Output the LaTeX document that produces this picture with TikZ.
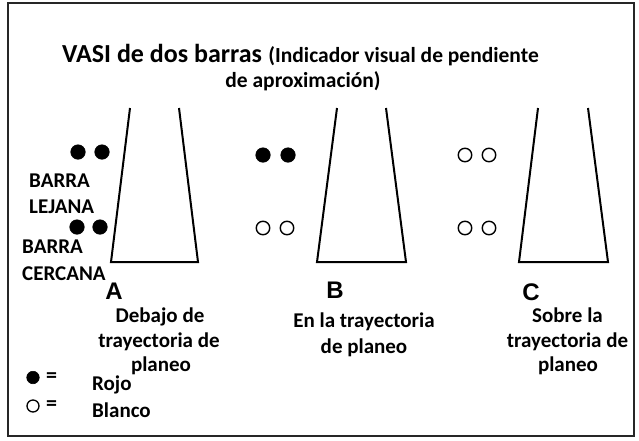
\documentclass[tikz,border=0pt]{standalone}
\usepackage{fontspec}
\setmainfont{Carlito}
\newfontfamily\arialfont{Liberation Sans}
\begin{document}
\begin{tikzpicture}[x=1pt,y=-1pt,
  txt/.style={inner sep=0pt, font=\fontsize{21}{25}\selectfont\bfseries},
  ttl/.style={inner sep=0pt, font=\fontsize{26}{30}\selectfont\bfseries},
  sub/.style={inner sep=0pt, font=\fontsize{21.5}{25}\selectfont\bfseries},
  letter/.style={inner sep=0pt, font=\fontsize{24}{28}\selectfont\arialfont\bfseries, anchor=base},
  eqsign/.style={inner sep=0pt, font=\fontsize{22}{24}\selectfont\bfseries, anchor=west},
  redlamp/.style={circle, fill=black, draw=black, line width=0.6pt, minimum size=14.5pt, inner sep=0pt},
  whitelamp/.style={circle, fill=white, draw=black, line width=1.4pt, minimum size=13.5pt, inner sep=0pt},
  strip/.style={line width=2pt, line join=miter},
  frame/.style={line width=1.8pt, draw=black!85}
]
\useasboundingbox (0,0) rectangle (639,440);
\draw[frame] (8,3) rectangle (634,436);

% title
\node[ttl, anchor=base west] (title) at (62,62) {VASI de dos barras};
\node[sub, anchor=base west] (sub1) at ([xshift=6pt]title.base east) {(Indicador visual de pendiente};
\node[sub, anchor=base] (sub2) at (303,87) {de aproximación)};

% runways
\draw[strip] (130,108) -- (111,262) -- (198,262) -- (179,108);
\draw[strip] (337,108) -- (317,262) -- (406,262) -- (386,108);
\draw[strip] (538,108) -- (519,262) -- (608,262) -- (588,108);

% lamps A
\node[redlamp] (a1) at (78,152) {};
\node[redlamp] (a2) at (102,152) {};
\node[redlamp] (a3) at (77,227) {};
\node[redlamp] (a4) at (100,227) {};
% lamps B
\node[redlamp] (b1) at (263,155) {};
\node[redlamp] (b2) at (288,155) {};
\node[whitelamp] (b3) at (263,228) {};
\node[whitelamp] (b4) at (287,228) {};
% lamps C
\node[whitelamp] (c1) at (465,155) {};
\node[whitelamp] (c2) at (489,155) {};
\node[whitelamp] (c3) at (465,228) {};
\node[whitelamp] (c4) at (489,228) {};

% bar labels
\node[txt, anchor=base west] (far1) at (29,187) {BARRA};
\node[txt, anchor=base west] (far2) at (29,213) {LEJANA};
\node[txt, anchor=base west] (near1) at (22,253) {BARRA};
\node[txt, anchor=base west] (near2) at (22,280) {CERCANA};

% letters
\node[letter] (la) at (114,299) {A};
\node[letter] (lb) at (335,298) {B};
\node[letter] (lc) at (531,300) {C};

% captions
\node[txt, anchor=base] (ca1) at (160,322) {Debajo de};
\node[txt, anchor=base] (ca2) at (159,347) {trayectoria de};
\node[txt, anchor=base] (ca3) at (161,371) {planeo};
\node[txt, anchor=base] (cb1) at (364,327) {En la trayectoria};
\node[txt, anchor=base] (cb2) at (364,353) {de planeo};
\node[txt, anchor=base] (cc1) at (567.5,322) {Sobre la};
\node[txt, anchor=base] (cc2) at (567.5,347) {trayectoria de};
\node[txt, anchor=base] (cc3) at (568,371) {planeo};

% legend
\node[redlamp, minimum size=12.5pt] (lr) at (33,377.5) {};
\node[whitelamp, minimum size=12pt, line width=1.3pt] (lw) at (33,406) {};
\node[eqsign] (eq1) at (46,378) {=};
\node[eqsign] (eq2) at (46,406) {=};
\node[txt, anchor=base west] (rojo) at (92,390) {Rojo};
\node[txt, anchor=base west] (blanco) at (92,417) {Blanco};
\end{tikzpicture}
\end{document}
